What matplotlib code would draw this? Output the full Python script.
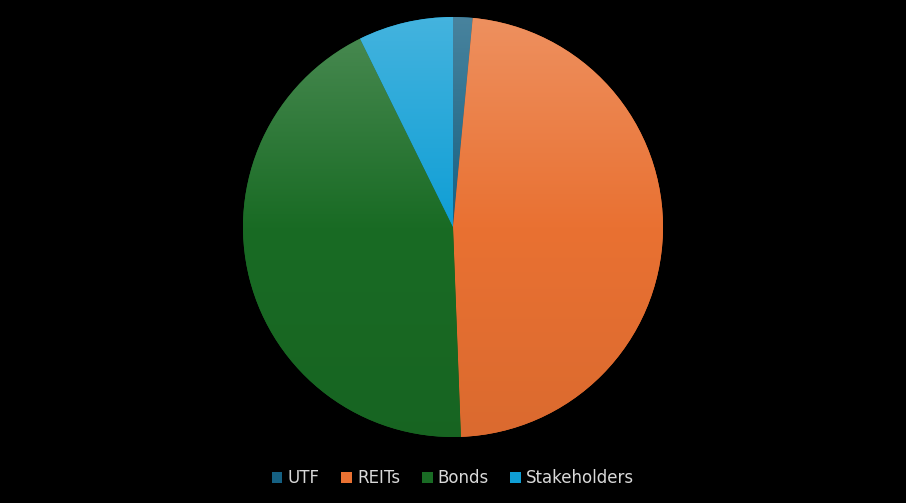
import numpy as np
import matplotlib.pyplot as plt
from matplotlib.colors import LinearSegmentedColormap, to_rgb
from matplotlib.patches import Patch

labels = ['UTF', 'REITs', 'Bonds', 'Stakeholders']
values = [1.5, 47.9, 43.3, 7.3]
colors = ['#156082', '#E97132', '#196B24', '#0F9ED5']


def shade(c, f):
    r = np.array(to_rgb(c))
    if f > 0:
        return tuple(r + (1 - r) * f)
    return tuple(r * (1 + f))


fig = plt.figure(figsize=(9.06, 5.03), dpi=100, facecolor='black')
ax = fig.add_axes([243 / 906, 66 / 503, 420 / 906, 420 / 503])
ax.set_facecolor('black')

wedges, _ = ax.pie(values, colors=colors, startangle=90, counterclock=False,
                   radius=1, wedgeprops=dict(linewidth=0))

# vertical gradient fill: darker at bottom, base in middle, lighter at top
grad = np.linspace(0, 1, 256).reshape(-1, 1)
for w, c in zip(wedges, colors):
    cmap = LinearSegmentedColormap.from_list('g', [shade(c, -0.06), c, shade(c, 0.22)])
    im = ax.imshow(grad, cmap=cmap, extent=(-1, 1, -1, 1), origin='lower',
                   aspect='auto', zorder=w.get_zorder() + 0.1)
    im.set_clip_path(w)

ax.set_xlim(-1, 1)
ax.set_ylim(-1, 1)
ax.set_aspect('equal')
ax.axis('off')

handles = [Patch(facecolor=c, edgecolor='none') for c in colors]
fig.legend(handles, labels, loc='center', bbox_to_anchor=(0.5, 25 / 503), ncol=4,
           frameon=False, fontsize=12, labelcolor='#d9d9d9', handlelength=0.65,
           handleheight=0.65, handletextpad=0.3, columnspacing=1.3)

fig.savefig('out.png', dpi=100, facecolor='black')
